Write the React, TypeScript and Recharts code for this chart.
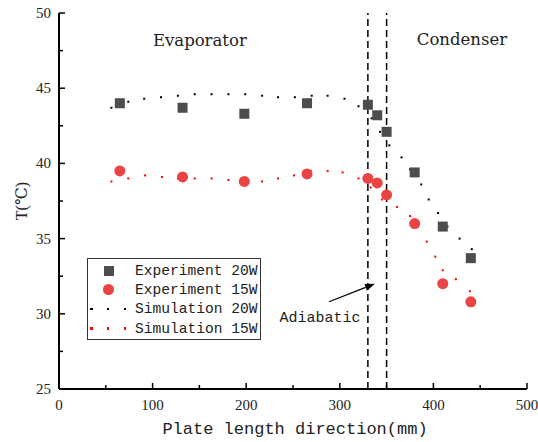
import React from "react"
import {
  ScatterChart,
  Scatter,
  XAxis,
  YAxis,
  ReferenceLine,
  ReferenceDot,
} from "recharts"

// plate position (mm) of measuring points
const expPositions = [65, 132, 198, 265, 330, 340, 350, 380, 410, 440]
const exp20W = [44.0, 43.7, 43.3, 44.0, 43.9, 43.2, 42.1, 39.4, 35.8, 33.7]
const exp15W = [39.5, 39.1, 38.8, 39.3, 39.0, 38.7, 37.9, 36.0, 32.0, 30.8]

// simulation curves
const sim20WPos = [56, 74, 91, 109, 127, 145, 163, 181, 199, 217, 234, 252, 270, 287, 305, 320, 334, 343, 353, 366, 375, 387, 395, 405, 415, 428, 441]
const sim20W = [43.7, 44.1, 44.3, 44.4, 44.5, 44.6, 44.6, 44.6, 44.6, 44.5, 44.4, 44.4, 44.5, 44.5, 44.3, 43.8, 43.0, 42.1, 41.2, 40.4, 39.6, 38.6, 37.6, 36.7, 35.8, 35.0, 34.3]
const sim15WPos = [56, 74, 92, 110, 127, 145, 163, 181, 199, 217, 234, 251, 269, 287, 303, 320, 333, 345, 361, 375, 383, 393, 402, 410, 424, 439]
const sim15W = [38.8, 39.0, 39.2, 39.1, 39.0, 39.0, 39.0, 38.9, 38.8, 38.8, 39.0, 39.2, 39.5, 39.5, 39.4, 39.0, 38.4, 37.6, 37.1, 36.5, 35.8, 34.8, 33.8, 32.9, 32.3, 31.5]

const xTicks = [0, 50, 100, 150, 200, 250, 300, 350, 400, 450, 500]
const yTicks = [25, 27.5, 30, 32.5, 35, 37.5, 40, 42.5, 45, 47.5, 50]
const adiabaticBounds = [330, 350]

const zip = (xs: number[], ys: number[]) => xs.map((x, i) => ({ x, y: ys[i] }))

const GREY = "#4d4d4d"
const RED = "#e94343"
const SERIF = "'Liberation Serif', 'DejaVu Serif', serif"
const WIDE_SERIF = "'DejaVu Serif', serif"
const MONO = "'Liberation Mono', 'DejaVu Sans Mono', monospace"

const XTick = (props: any) => {
  const { x, y, payload } = props
  const major = payload.value % 100 === 0
  return (
    <g>
      <line x1={x} x2={x} y1={y} y2={y - (major ? 6 : 4)} stroke="#000" strokeWidth={1.5} />
      {major && (
        <text x={x} y={y + 21} textAnchor="middle" style={{ fontFamily: SERIF, fontSize: 15 }} fill="#222">
          {payload.value}
        </text>
      )}
    </g>
  )
}

const YTick = (props: any) => {
  const { x, y, payload } = props
  const major = payload.value % 5 === 0
  return (
    <g>
      <line x1={x} x2={x + (major ? 6 : 4)} y1={y} y2={y} stroke="#000" strokeWidth={1.5} />
      {major && (
        <text x={x - 8} y={y + 5} textAnchor="end" style={{ fontFamily: SERIF, fontSize: 15 }} fill="#222">
          {payload.value}
        </text>
      )}
    </g>
  )
}

const SquareDot = (props: any) => (
  <rect x={props.cx - 5} y={props.cy - 5} width={10} height={10} fill={GREY} />
)
const CircleDot = (props: any) => <circle cx={props.cx} cy={props.cy} r={5.5} fill={RED} />
const tinyDot = (color: string) => (props: any) => (
  <rect x={props.cx - 1} y={props.cy - 1} width={2} height={2} fill={color} />
)

const Arrow = (props: any) => {
  const { x1, y1, x2, y2 } = props
  const ang = Math.atan2(y2 - y1, x2 - x1)
  const L = 10
  const W = 3.5
  const bx = x2 - L * Math.cos(ang)
  const by = y2 - L * Math.sin(ang)
  const px = -Math.sin(ang) * W
  const py = Math.cos(ang) * W
  return (
    <g>
      <line x1={x1} y1={y1} x2={bx} y2={by} stroke="#000" strokeWidth={1.2} />
      <polygon points={`${x2},${y2} ${bx + px},${by + py} ${bx - px},${by - py}`} fill="#000" />
      <text x={x1 - 9} y={y1 + 20} textAnchor="middle" style={{ fontFamily: MONO, fontSize: 15 }} fill="#222">
        Adiabatic
      </text>
    </g>
  )
}

const regionLabel = (text: string) => (props: any) => {
  const { viewBox } = props
  return (
    <text x={viewBox.x} y={viewBox.y + 6} textAnchor="middle" style={{ fontFamily: WIDE_SERIF, fontSize: 16.5 }} fill="#222">
      {text}
    </text>
  )
}

const legendRows = [
  { label: "Experiment 20W", kind: "square", color: GREY },
  { label: "Experiment 15W", kind: "circle", color: RED },
  { label: "Simulation 20W", kind: "dots", color: "#000" },
  { label: "Simulation 15W", kind: "dots", color: "#ff0000" },
]

const LegendBox = () => (
  <div
    style={{
      position: "absolute",
      left: 87,
      top: 258,
      width: 174,
      height: 82,
      border: "1px solid #333",
      boxSizing: "border-box",
      fontFamily: MONO,
      fontSize: 14.6,
      color: "#222",
      paddingTop: 2,
      background: "#fff",
    }}
  >
    {legendRows.map((r) => (
      <div key={r.label} style={{ display: "flex", alignItems: "center", height: 19.3 }}>
        <div
          style={{
            width: 47,
            display: "flex",
            alignItems: "center",
            justifyContent: r.kind === "dots" ? "space-between" : "center",
            padding: r.kind === "dots" ? "0 9px 0 2px" : "0 6px 0 0",
            boxSizing: "border-box",
          }}
        >
          {r.kind === "dots" &&
            [0, 1, 2].map((i) => <div key={i} style={{ width: 2.5, height: 2.5, background: r.color }} />)}
          {r.kind === "square" && <div style={{ width: 10, height: 10, background: r.color }} />}
          {r.kind === "circle" && <div style={{ width: 11, height: 11, borderRadius: 6, background: r.color }} />}
        </div>
        <span style={{ whiteSpace: "pre" }}>{r.label}</span>
      </div>
    ))}
  </div>
)

export default function App() {
  return (
    <div style={{ position: "absolute", left: 0, top: 0, width: 538, height: 442, background: "#fff" }}>
      <ScatterChart width={538} height={442} margin={{ top: 13, right: 11, bottom: 0, left: 0 }}>
        <XAxis
          type="number"
          dataKey="x"
          domain={[0, 500]}
          ticks={xTicks}
          interval={0}
          height={53}
          tickSize={0}
          tickMargin={0}
          tick={<XTick />}
          axisLine={{ stroke: "#000", strokeWidth: 2 }}
          tickLine={false}
          allowDataOverflow
          label={{
            content: (p: any) => (
              <text
                x={p.viewBox.x + p.viewBox.width / 2 + 2}
                y={p.viewBox.y + 45}
                textAnchor="middle"
                style={{ fontFamily: MONO, fontSize: 17 }}
                fill="#222"
              >
                Plate length direction(mm)
              </text>
            ),
          }}
        />
        <XAxis xAxisId="top" type="number" orientation="top" domain={[0, 500]} height={0} tick={false} tickLine={false} axisLine={{ stroke: "#000", strokeWidth: 2 }} />
        <YAxis
          type="number"
          dataKey="y"
          domain={[25, 50]}
          ticks={yTicks}
          interval={0}
          width={59}
          tickSize={0}
          tickMargin={0}
          tick={<YTick />}
          axisLine={{ stroke: "#000", strokeWidth: 2 }}
          tickLine={false}
          allowDataOverflow
          label={{
            content: (p: any) => {
              const cx = 21
              const cy = p.viewBox.y + p.viewBox.height / 2
              return (
                <text x={cx} y={cy} transform={`rotate(-90 ${cx} ${cy})`} textAnchor="middle" dominantBaseline="central" style={{ fontFamily: SERIF, fontSize: 16 }} fill="#222">
                  T(℃)
                </text>
              )
            },
          }}
        />
        <YAxis yAxisId="right" type="number" orientation="right" domain={[25, 50]} width={0} tick={false} tickLine={false} axisLine={{ stroke: "#000", strokeWidth: 2 }} />

        {adiabaticBounds.map((b) => (
          <ReferenceLine key={b} x={b} stroke="#000" strokeWidth={1.5} strokeDasharray="7 4" />
        ))}
        <ReferenceLine segment={[{ x: 288.5, y: 30.8 }, { x: 337.6, y: 32.0 }]} shape={<Arrow />} />
        <ReferenceDot x={150.5} y={48.2} r={0} stroke="none" label={{ content: regionLabel("Evaporator") }} />
        <ReferenceDot x={430.5} y={48.3} r={0} stroke="none" label={{ content: regionLabel("Condenser") }} />

        <Scatter name="Simulation 20W" data={zip(sim20WPos, sim20W)} shape={tinyDot("#000")} isAnimationActive={false} />
        <Scatter name="Simulation 15W" data={zip(sim15WPos, sim15W)} shape={tinyDot("#ff0000")} isAnimationActive={false} />
        <Scatter name="Experiment 20W" data={zip(expPositions, exp20W)} shape={<SquareDot />} isAnimationActive={false} />
        <Scatter name="Experiment 15W" data={zip(expPositions, exp15W)} shape={<CircleDot />} isAnimationActive={false} />
      </ScatterChart>
      <LegendBox />
    </div>
  )
}
